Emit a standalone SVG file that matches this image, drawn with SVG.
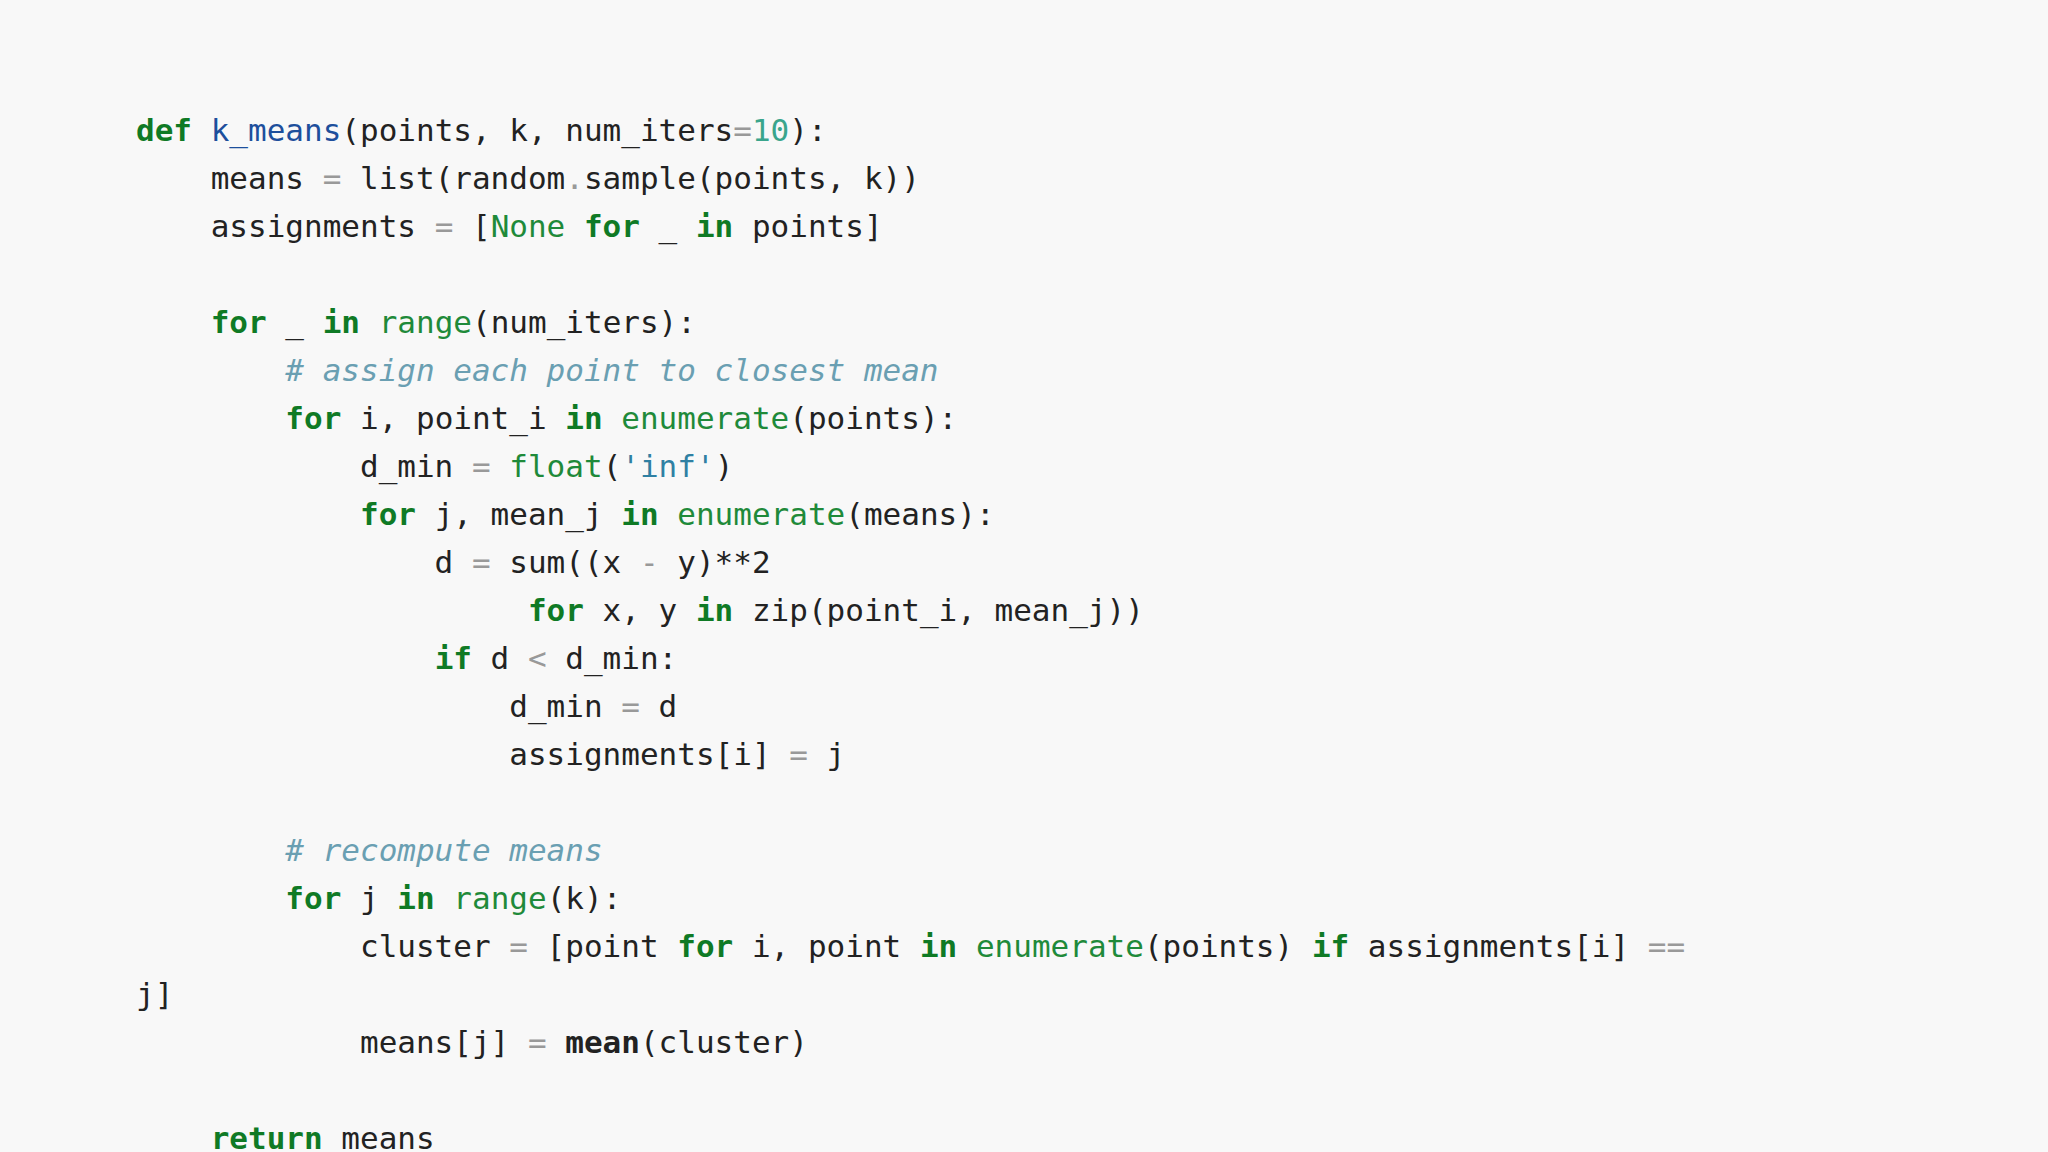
<svg xmlns="http://www.w3.org/2000/svg" width="2048" height="1152" viewBox="0 0 2048 1152">
<style>
text{font-family:"DejaVu Sans Mono","Liberation Mono",monospace;font-size:31px;fill:#222;white-space:pre}
.k{fill:#0f7a25;font-weight:bold}
.f{fill:#1d4f9c}
.b{fill:#1f8a3a}
.n{fill:#3aa58c}
.s{fill:#2f80a3}
.c{fill:#6a9fb2;font-style:italic}
.o{fill:#999}
.m{font-weight:bold}
</style>
<rect width="2048" height="1152" fill="#f8f8f8"/>
<g id="code" xml:space="preserve">
<text x="136" y="141"><tspan class="k">def</tspan> <tspan class="f">k_means</tspan>(points, k, num_iters<tspan class="o">=</tspan><tspan class="n">10</tspan>):</text>
<text x="136" y="189">    means <tspan class="o">=</tspan> list(random<tspan class="o">.</tspan>sample(points, k))</text>
<text x="136" y="237">    assignments <tspan class="o">=</tspan> [<tspan class="b">None</tspan> <tspan class="k">for</tspan> _ <tspan class="k">in</tspan> points]</text>
<text x="136" y="333">    <tspan class="k">for</tspan> _ <tspan class="k">in</tspan> <tspan class="b">range</tspan>(num_iters):</text>
<text x="136" y="381">        <tspan class="c"># assign each point to closest mean</tspan></text>
<text x="136" y="429">        <tspan class="k">for</tspan> i, point_i <tspan class="k">in</tspan> <tspan class="b">enumerate</tspan>(points):</text>
<text x="136" y="477">            d_min <tspan class="o">=</tspan> <tspan class="b">float</tspan>(<tspan class="s">'inf'</tspan>)</text>
<text x="136" y="525">            <tspan class="k">for</tspan> j, mean_j <tspan class="k">in</tspan> <tspan class="b">enumerate</tspan>(means):</text>
<text x="136" y="573">                d <tspan class="o">=</tspan> sum((x <tspan class="o">-</tspan> y)**2</text>
<text x="136" y="621">                     <tspan class="k">for</tspan> x, y <tspan class="k">in</tspan> zip(point_i, mean_j))</text>
<text x="136" y="669">                <tspan class="k">if</tspan> d <tspan class="o">&lt;</tspan> d_min:</text>
<text x="136" y="717">                    d_min <tspan class="o">=</tspan> d</text>
<text x="136" y="765">                    assignments[i] <tspan class="o">=</tspan> j</text>
<text x="136" y="861">        <tspan class="c"># recompute means</tspan></text>
<text x="136" y="909">        <tspan class="k">for</tspan> j <tspan class="k">in</tspan> <tspan class="b">range</tspan>(k):</text>
<text x="136" y="957">            cluster <tspan class="o">=</tspan> [point <tspan class="k">for</tspan> i, point <tspan class="k">in</tspan> <tspan class="b">enumerate</tspan>(points) <tspan class="k">if</tspan> assignments[i] <tspan class="o">==</tspan></text>
<text x="136" y="1005">j]</text>
<text x="136" y="1053">            means[j] <tspan class="o">=</tspan> <tspan class="m">mean</tspan>(cluster)</text>
<text x="136" y="1149">    <tspan class="k">return</tspan> means</text>
</g>
</svg>
